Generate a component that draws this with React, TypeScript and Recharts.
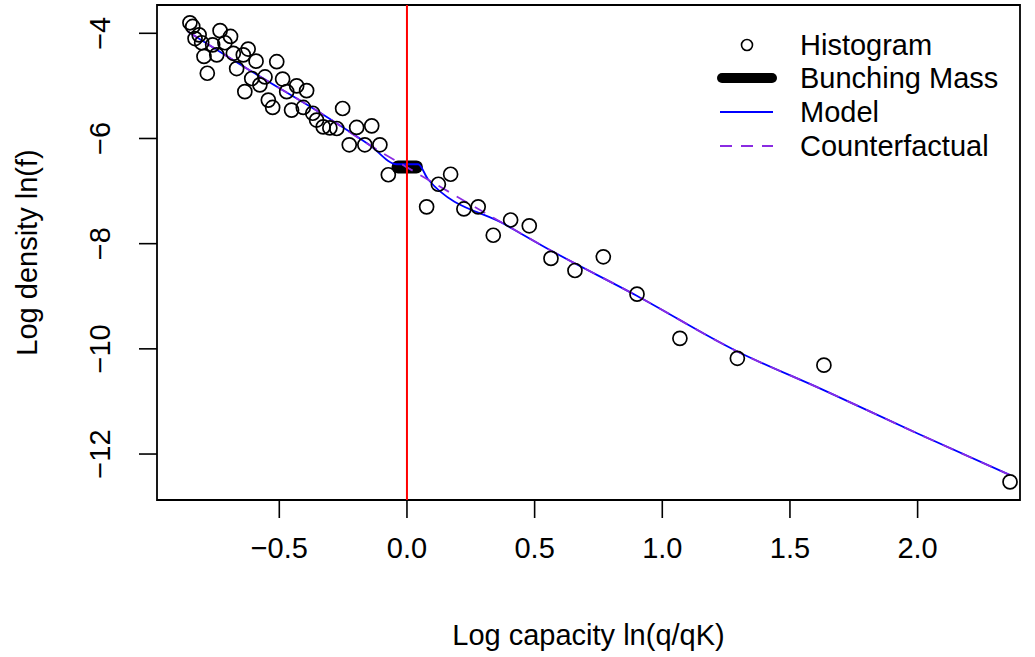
import {
  ComposedChart,
  Scatter,
  Line,
  XAxis,
  YAxis,
  ReferenceLine,
  ReferenceArea,
  Legend,
} from "recharts";

// histogram bins (log capacity, log density)
const histX = [
  -0.85, -0.839, -0.814, -0.83, -0.804, -0.732, -0.691, -0.713, -0.761, -0.745,
  -0.795, -0.782, -0.68, -0.641, -0.622, -0.667, -0.591, -0.608, -0.635, -0.576,
  -0.556, -0.51, -0.487, -0.471, -0.432, -0.393, -0.543, -0.526, -0.452, -0.406,
  -0.369, -0.354, -0.328, -0.302, -0.275, -0.252, -0.197, -0.138, -0.226, -0.165,
  -0.106, -0.073, 0.123, 0.077, 0.171, 0.223, 0.279, 0.338, 0.406, 0.479,
  0.564, 0.658, 0.769, 0.901, 1.069, 1.294, 1.633, 2.362,
];
const histY = [
  -3.8, -3.87, -4.03, -4.1, -4.18, -3.95, -4.06, -4.18, -4.22, -4.41,
  -4.44, -4.76, -4.38, -4.41, -4.3, -4.67, -4.53, -4.86, -5.11, -4.98,
  -4.83, -4.54, -4.87, -5.11, -5.0, -5.09, -5.27, -5.41, -5.46, -5.41,
  -5.52, -5.65, -5.78, -5.8, -5.81, -5.43, -5.79, -5.76, -6.12, -6.12,
  -6.12, -6.69, -6.87, -7.3, -6.68, -7.34, -7.3, -7.84, -7.55, -7.66,
  -8.28, -8.51, -8.25, -8.96, -9.8, -10.18, -10.31, -12.53,
];

// fitted model (with bunching bump at the kink)
const modelX = [-0.857, -0.6, -0.34, -0.145, -0.04, 0.044, 0.083, 0.39, 0.56, 0.9, 1.29, 1.63, 2.0, 2.362];
const modelY = [-3.97, -4.75, -5.51, -6.13, -6.49, -6.49, -6.78, -7.65, -8.12, -8.99, -10.04, -10.78, -11.61, -12.4];

// counterfactual density
const cfX = [-0.857, -0.6, -0.34, -0.145, 0.05, 0.39, 0.56, 0.9, 1.29, 1.63, 2.0, 2.362];
const cfY = [-3.97, -4.75, -5.51, -6.13, -6.69, -7.65, -8.12, -8.99, -10.04, -10.78, -11.61, -12.4];

// bunching mass segment
const bunchX = [-0.035, 0.037];
const bunchY = [-6.54, -6.54];

const xTicks = [-0.5, 0, 0.5, 1, 1.5, 2];
const yTicks = [-12, -10, -8, -6, -4];
const legendLabels = ["Histogram", "Bunching Mass", "Model", "Counterfactual"];

const X_DOMAIN = [-0.979, 2.401];
const Y_DOMAIN = [-12.874, -3.462];

const FONT = '"Liberation Sans", Arial, Helvetica, sans-serif';
const FS = 29;
const MINUS = "\u2212";

const zip = (xs: number[], ys: number[]) => xs.map((x, i) => ({ x, y: ys[i] }));

const histData = zip(histX, histY);
const modelData = zip(modelX, modelY);
const cfData = zip(cfX, cfY);
const bunchData = zip(bunchX, bunchY);

const fmtX = (v: number) => (v < 0 ? MINUS : "") + Math.abs(v).toFixed(1);
const fmtY = (v: number) => (v < 0 ? MINUS : "") + Math.abs(v);

function XTick({ x, y, payload }: any) {
  return (
    <g>
      <line x1={x} x2={x} y1={y} y2={y + 18} stroke="#000" strokeWidth={1.6} />
      <text x={x} y={y + 58} textAnchor="middle" fontSize={FS} fontFamily={FONT} fill="#000">
        {fmtX(payload.value)}
      </text>
    </g>
  );
}

function YTick({ x, y, payload }: any) {
  const tx = x - 47;
  return (
    <g>
      <line x1={x - 18} x2={x} y1={y} y2={y} stroke="#000" strokeWidth={1.6} />
      <text
        x={tx}
        y={y}
        transform={`rotate(-90, ${tx}, ${y})`}
        textAnchor="middle"
        fontSize={FS}
        fontFamily={FONT}
        fill="#000"
      >
        {fmtY(payload.value)}
      </text>
    </g>
  );
}

function Ring({ cx, cy }: any) {
  return <circle cx={cx} cy={cy} r={7} fill="none" stroke="#000" strokeWidth={1.7} />;
}

function LegendBox() {
  const rows = [25, 58, 92, 126];
  return (
    <svg width={330} height={150} style={{ display: "block", overflow: "visible" }}>
      <circle cx={57} cy={rows[0]} r={5.5} fill="none" stroke="#000" strokeWidth={1.6} />
      <line x1={32} x2={82} y1={rows[1]} y2={rows[1]} stroke="#000" strokeWidth={10} strokeLinecap="round" />
      <line x1={30} x2={83} y1={rows[2]} y2={rows[2]} stroke="#0000ff" strokeWidth={1.8} />
      <line x1={30} x2={83} y1={rows[3]} y2={rows[3]} stroke="#8a2be2" strokeWidth={1.8} strokeDasharray="12 9" />
      {legendLabels.map((label, i) => (
        <text key={label} x={110} y={rows[i] + 10} fontSize={FS} fontFamily={FONT} fill="#000">
          {label}
        </text>
      ))}
    </svg>
  );
}

export default function App() {
  return (
    <div style={{ position: "absolute", left: 0, top: 0, background: "#fff" }}>
      <ComposedChart width={1035} height={657} margin={{ top: 5, right: 15, bottom: 0, left: 0 }}>
        <XAxis
          type="number"
          dataKey="x"
          domain={X_DOMAIN}
          allowDataOverflow
          ticks={xTicks}
          interval={0}
          height={157}
          tickSize={0}
          tickMargin={0}
          axisLine={false}
          tick={<XTick />}
          label={{
            content: (p: any) => (
              <text
                x={p.viewBox.x + p.viewBox.width / 2}
                y={p.viewBox.y + 145}
                textAnchor="middle"
                fontSize={FS}
                fontFamily={FONT}
                fill="#000"
              >
                Log capacity ln(q/qK)
              </text>
            ),
          }}
        />
        <YAxis
          type="number"
          dataKey="y"
          domain={Y_DOMAIN}
          allowDataOverflow
          ticks={yTicks}
          interval={0}
          width={157}
          tickSize={0}
          tickMargin={0}
          axisLine={false}
          tick={<YTick />}
          label={{
            content: (p: any) => {
              const tx = p.viewBox.x + 37;
              const ty = p.viewBox.y + p.viewBox.height / 2;
              return (
                <text
                  x={tx}
                  y={ty}
                  transform={`rotate(-90, ${tx}, ${ty})`}
                  textAnchor="middle"
                  fontSize={FS}
                  fontFamily={FONT}
                  fill="#000"
                >
                  Log density ln(f)
                </text>
              );
            },
          }}
        />
        <ReferenceArea
          x1={X_DOMAIN[0]}
          x2={X_DOMAIN[1]}
          y1={Y_DOMAIN[0]}
          y2={Y_DOMAIN[1]}
          fill="none"
          stroke="#000"
          strokeWidth={1.8}
          ifOverflow="visible"
        />
        <Scatter data={histData} shape={<Ring />} isAnimationActive={false} />
        <Line
          data={bunchData}
          dataKey="y"
          type="linear"
          stroke="#000"
          strokeWidth={13}
          strokeLinecap="round"
          dot={false}
          activeDot={false}
          isAnimationActive={false}
        />
        <Line
          data={modelData}
          dataKey="y"
          type="monotone"
          stroke="#0000ff"
          strokeWidth={1.8}
          dot={false}
          activeDot={false}
          isAnimationActive={false}
        />
        <Line
          data={cfData}
          dataKey="y"
          type="monotone"
          stroke="#8a2be2"
          strokeWidth={1.8}
          strokeDasharray="12 9"
          dot={false}
          activeDot={false}
          isAnimationActive={false}
        />
        <ReferenceLine x={0} stroke="#ff0000" strokeWidth={2} ifOverflow="visible" />
        <Legend
          layout="horizontal"
          verticalAlign="middle"
          align="center"
          wrapperStyle={{ left: 690, top: 20, width: 330, height: 150 }}
          content={() => <LegendBox />}
        />
      </ComposedChart>
    </div>
  );
}
